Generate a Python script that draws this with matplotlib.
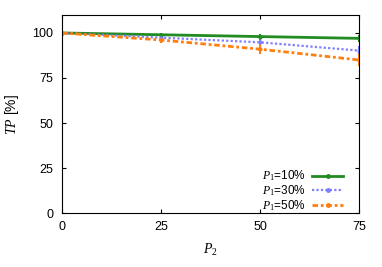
import matplotlib
matplotlib.use("Agg")
import matplotlib.pyplot as plt
from matplotlib.lines import Line2D

p2 = [0, 25, 50, 75]
tp_10 = [100, 99.0, 98.0, 97.0]
tp_30 = [100, 97.4, 94.8, 90.2]
tp_50 = [100, 96.1, 91.0, 85.0]
err_10 = [0, 1.0, 1.2, 2.0]
err_30 = [0, 1.2, 1.8, 2.5]
err_50 = [0, 1.8, 2.8, 3.5]
labels = ["$P_1$=10%", "$P_1$=30%", "$P_1$=50%"]

plt.rcParams["font.family"] = ["Liberation Sans", "DejaVu Sans"]
plt.rcParams["mathtext.fontset"] = "custom"
plt.rcParams["mathtext.it"] = "Liberation Serif:italic"
plt.rcParams["mathtext.rm"] = "Liberation Serif"

fig = plt.figure(figsize=(3.82, 2.67), dpi=100)
ax = fig.add_axes([0.162, 0.202, 0.778, 0.742])

series = [
    (tp_10, err_10, "#228b22", "-", 2.0),
    (tp_30, err_30, "#7f7fff", (0, (1, 1)), 1.6),
    (tp_50, err_50, "#ff7f0e", (0, (2, 1, 1, 1)), 2.0),
]
handles = []
for (vals, errs, color, ls, lw), lab in zip(series, labels):
    ax.errorbar(p2, vals, yerr=errs, color=color, linestyle=ls, linewidth=lw,
                marker="o", markersize=2, elinewidth=1.5, capsize=0)
    handles.append(Line2D([], [], color=color, linestyle=ls, linewidth=lw,
                          marker="o", markersize=2.5, label=lab))

ax.set_xlim(0, 75)
ax.set_ylim(0, 110)
ax.set_xticks([0, 25, 50, 75])
ax.set_yticks([0, 25, 50, 75, 100])
ax.tick_params(direction="in", top=True, right=True, labelsize=9, length=3,
               pad=6)
ax.set_xlabel("$P_2$", fontsize=10, labelpad=6)
ax.set_ylabel("$TP$ [%]", fontsize=10, labelpad=8)

ax.legend(handles=handles, loc="lower right", bbox_to_anchor=(0.946, 0.0),
          frameon=False, fontsize=8.5, markerfirst=False, handlelength=2.6,
          labelspacing=0.0, borderaxespad=0.0, handletextpad=0.6,
          borderpad=0.0)

fig.savefig("out.png", dpi=100)
